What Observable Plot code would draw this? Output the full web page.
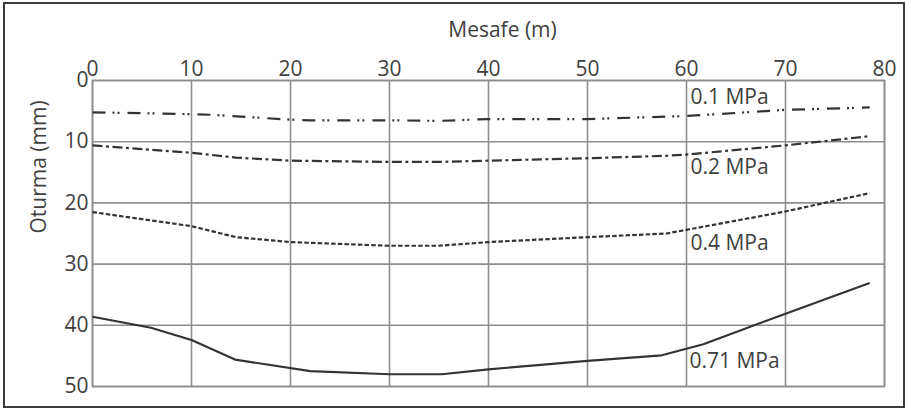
<!DOCTYPE html>
<html>
<head>
<meta charset="utf-8">
<script src="https://cdn.jsdelivr.net/npm/d3@7"></script>
<script src="https://cdn.jsdelivr.net/npm/@observablehq/plot@0.6"></script>
<style>
  html, body { margin: 0; padding: 0; background: #fff; }
  #wrap { position: relative; width: 906px; height: 410px; overflow: hidden; }
  #border { position: absolute; left: 3px; top: 2px; width: 902px; height: 406px; box-sizing: border-box; border: 2px solid #3c3c3c; pointer-events: none; }
</style>
</head>
<body>
<div id="wrap"><div id="border"></div></div>
<script>
// Distance (m) and settlement (mm) per loading
const dist01 = [0, 10, 12, 20, 22, 30, 35, 40, 50, 60, 70, 78.5];
const set01  = [5.2, 5.5, 5.6, 6.4, 6.5, 6.5, 6.6, 6.3, 6.3, 5.8, 4.8, 4.4];

const dist02 = [0, 10, 14.5, 20, 30, 35, 40, 50, 58, 60, 70, 78.5];
const set02  = [10.6, 11.8, 12.6, 13.1, 13.3, 13.3, 13.1, 12.7, 12.3, 12.1, 10.6, 9.1];

const dist04 = [0, 10, 14.5, 20, 30, 35, 40, 50, 58, 60, 70, 78.5];
const set04  = [21.5, 23.8, 25.6, 26.4, 27.0, 27.0, 26.4, 25.6, 25.0, 24.4, 21.4, 18.4];

const dist071 = [0, 5.9, 10, 14.4, 22, 30, 35.3, 40, 50, 57.5, 61.7, 70, 78.5];
const set071  = [38.6, 40.4, 42.4, 45.6, 47.5, 48.0, 48.0, 47.2, 45.8, 44.9, 43.1, 38.1, 33.1];

const xTicks = [0, 10, 20, 30, 40, 50, 60, 70, 80];
const yTicks = [0, 10, 20, 30, 40, 50];

const labelText = ["0.1 MPa", "0.2 MPa", "0.4 MPa", "0.71 MPa"];
const labelX = [60.4, 60.4, 60.4, 60.3];
const labelY = [2.8, 14.2, 26.6, 45.9];

const xTitle = "Mesafe (m)";
const yTitle = "Oturma (mm)";

const toRows = (xs, ys) => xs.map((x, i) => ({x, y: ys[i]}));
const labels = labelText.map((t, i) => ({t, x: labelX[i], y: labelY[i]}));

const ink = "#333333";
const textInk = "#404040";
const gridInk = "#8e8e8e";
const font = "'Open Sans', sans-serif";
const fs = 21;

const lineOpts = {x: "x", y: "y", stroke: ink, strokeWidth: 2.2, strokeLinecap: "butt"};

const chart = Plot.plot({
  width: 906,
  height: 410,
  marginLeft: 92,
  marginRight: 22,
  marginTop: 80,
  marginBottom: 24,
  style: {fontFamily: font, fontSize: fs + "px", color: textInk, background: "transparent"},
  x: {domain: [0, 80]},
  y: {domain: [0, 50], reverse: true},
  marks: [
    Plot.gridX(xTicks, {stroke: gridInk, strokeOpacity: 1, strokeWidth: 1.6}),
    Plot.gridY(yTicks, {stroke: gridInk, strokeOpacity: 1, strokeWidth: 1.6}),
    Plot.frame({stroke: gridInk, strokeWidth: 1.6}),
    Plot.axisX(xTicks, {anchor: "top", tickSize: 0, tickPadding: 5, label: null, fontSize: fs, fill: textInk}),
    Plot.axisY(yTicks, {anchor: "left", tickSize: 0, tickPadding: 4, label: null, fontSize: fs, fill: textInk}),
    Plot.text([xTitle], {frameAnchor: "top", dx: 14, dy: -50, fontSize: fs, fill: textInk, lineAnchor: "middle"}),
    Plot.text([yTitle], {frameAnchor: "left", dx: -53, rotate: -90, fontSize: fs, fill: textInk, lineAnchor: "middle"}),
    Plot.line(toRows(dist01, set01), {...lineOpts, strokeDasharray: "13,7,2,3,2,8"}),
    Plot.line(toRows(dist02, set02), {...lineOpts, strokeDasharray: "10,3.5,3,3.5"}),
    Plot.line(toRows(dist04, set04), {...lineOpts, strokeDasharray: "4.5,2.2"}),
    Plot.line(toRows(dist071, set071), {...lineOpts}),
    Plot.text(labels, {x: "x", y: "y", text: "t", textAnchor: "start", lineAnchor: "middle", fontSize: fs, fill: textInk})
  ]
});
document.getElementById("wrap").insertBefore(chart, document.getElementById("border"));
</script>
</body>
</html>
